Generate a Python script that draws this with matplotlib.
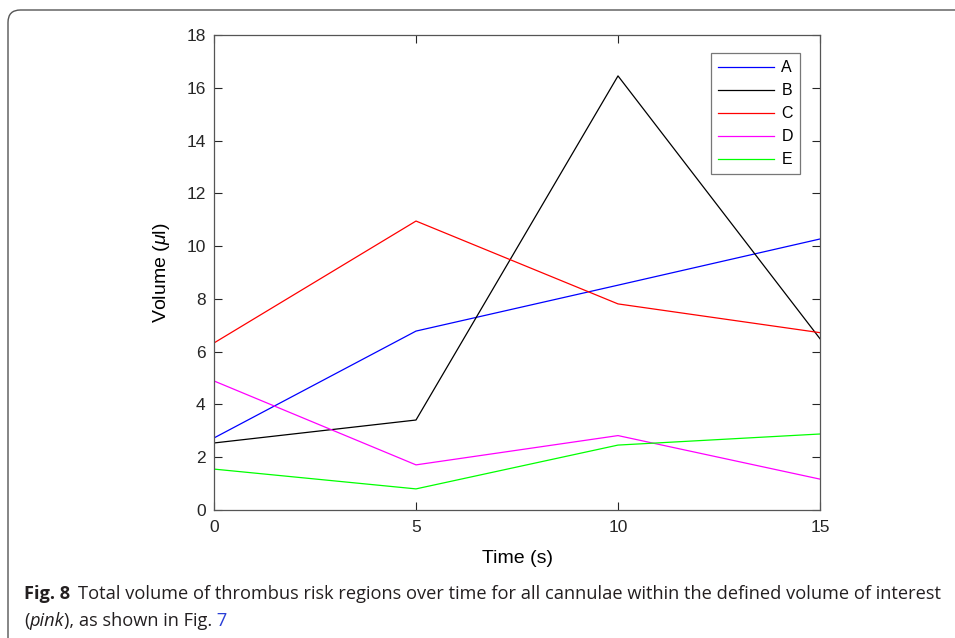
import matplotlib
matplotlib.use("Agg")
import matplotlib.pyplot as plt
from matplotlib.patches import FancyBboxPatch

time = [0, 5, 10, 15]
series_names = ["A", "B", "C", "D", "E"]
A = [2.73, 6.78, 8.52, 10.27]
B = [2.54, 3.41, 16.45, 6.49]
C = [6.33, 10.95, 7.81, 6.72]
D = [4.89, 1.71, 2.82, 1.17]
E = [1.55, 0.80, 2.46, 2.88]
colors = ["#0000ff", "#000000", "#ff0000", "#ff00ff", "#00ff00"]
xticks = [0, 5, 10, 15]
yticks = list(range(0, 19, 2))

plt.rcParams['font.family'] = ['Liberation Sans', 'DejaVu Sans']
plt.rcParams['mathtext.fontset'] = 'custom'
plt.rcParams['mathtext.it'] = 'Liberation Sans:italic'
plt.rcParams['mathtext.rm'] = 'Liberation Sans'

W, H = 955, 638
fig = plt.figure(figsize=(W / 100, H / 100), dpi=100)

# rounded frame
frame = FancyBboxPatch((8 / W, -0.1), 1.1, 1 - 10 / H + 0.1,
                       boxstyle="round,pad=0,rounding_size=0.013",
                       transform=fig.transFigure, fill=False,
                       edgecolor="#555555", linewidth=1.0, mutation_aspect=W / H)
fig.patches.append(frame)

ax = fig.add_axes([214 / W, 1 - 510 / H, (820 - 214) / W, (510 - 35) / H])
for vals, name, c in zip([A, B, C, D, E], series_names, colors):
    ax.plot(time, vals, color=c, linewidth=0.9, label=name)

ax.set_xlim(0, 15)
ax.set_ylim(0, 18)
ax.set_xticks(xticks)
ax.set_yticks(yticks)
ax.tick_params(direction='in', top=True, right=True, labelsize=12.5,
               length=6, width=0.8, colors='#262626', labelcolor='#262626')
ax.tick_params(axis='x', pad=7)
ax.tick_params(axis='y', pad=6)
for s in ax.spines.values():
    s.set_color('#555555')
    s.set_linewidth(0.9)
ax.set_xlabel("Time (s)", fontsize=14, labelpad=11)
ax.set_ylabel(r"Volume ($\mu$l)", fontsize=14, labelpad=10)

leg = ax.legend(loc='upper right', bbox_to_anchor=((800 - 214) / 606, (510 - 53) / 475),
                fontsize=11.5, frameon=True, fancybox=False, handlelength=3.5,
                handletextpad=0.45, labelspacing=0.5, borderpad=0.45, borderaxespad=0)
leg.get_frame().set_edgecolor('#555555')
leg.get_frame().set_linewidth(0.9)

# caption
cap_font = ['Open Sans', 'DejaVu Sans']
cap_col = '#231f20'
fig.canvas.draw()
r = fig.canvas.get_renderer()

def width_px(t):
    return t.get_window_extent(renderer=r).width

x0 = 24
gap = 8
x_end = 944
y1 = 1 - 599 / H
y2 = 1 - 626 / H
body = "Total volume of thrombus risk regions over time for all cannulae within the defined volume of interest"
fs = 12.0
tb = fig.text(x0 / W, y1, "Fig. 8", fontsize=fs, fontweight='bold', family=cap_font,
              va='baseline', ha='left', color=cap_col)
t_body = fig.text(0, y1, body, fontsize=fs, family=cap_font, va='baseline', ha='left', color=cap_col)
for _ in range(4):
    tb.set_fontsize(fs)
    t_body.set_fontsize(fs)
    total = width_px(tb) + gap + width_px(t_body)
    fs = fs * (x_end - x0) / total
tb.set_fontsize(fs)
t_body.set_fontsize(fs)
t_body.set_x((x0 + width_px(tb) + gap) / W)

x = x0
parts = [("(", 'normal', cap_col), ("pink", 'italic', cap_col),
         ("), as shown in Fig.", 'normal', cap_col), (" 7", 'normal', '#2a3fd6')]
for txt, st, col in parts:
    t = fig.text(x / W, y2, txt, fontsize=fs, family=cap_font, style=st,
                 va='baseline', ha='left', color=col)
    x += width_px(t)

fig.savefig("out.png", dpi=100)
